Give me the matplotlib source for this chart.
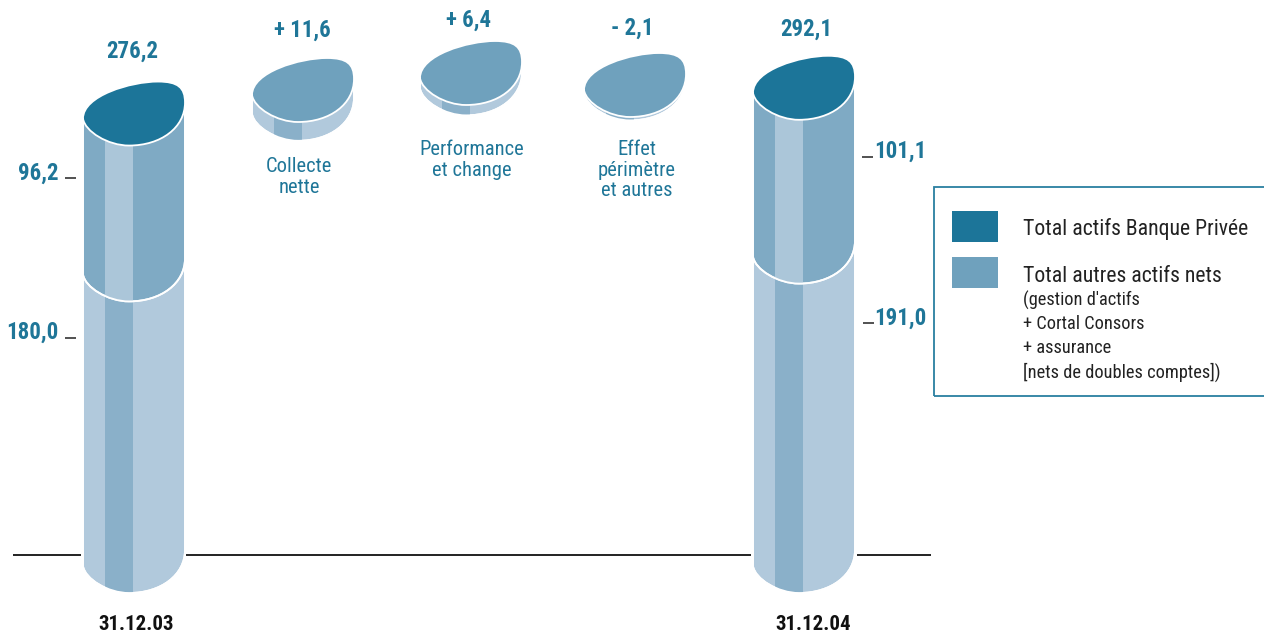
import matplotlib
matplotlib.use('Agg')
import matplotlib.pyplot as plt
from matplotlib.patches import PathPatch, Rectangle
from matplotlib.path import Path

# values in Md EUR
dates = ['31.12.03', '31.12.04']
banque_privee = [96.2, 101.1]
autres_actifs = [180.0, 191.0]
totaux = ['276,2', '292,1']
variations = [11.6, 6.4, -2.1]
variation_labels = ['+ 11,6', '+ 6,4', '- 2,1']
variation_names = ['Collecte\nnette', 'Performance\net change', 'Effet\npérimètre\net autres']

DARK = '#1c7599'
MID = '#6fa1bd'
UP_SIDE = '#7faac4'
UP_STRIPE = '#abc6d9'
LOW_SIDE = '#b1c9dc'
LOW_STRIPE = '#8ab0c9'
TXT = '#1f7698'

SCALE = 1.62   # px per unit
BASE = 593     # pixel row of value 0
W = 102

NARROW = ['Roboto Condensed', 'Liberation Sans']


def py(row):
    return (BASE - row) / SCALE


# lower edge and upper edge of the top ellipse, px from its lowest point
LOWER = [(0, 27), (2, 14), (25, 0), (46, 0), (78, 0), (102, 18), (102, 43)]
UPPER = [(102, 58), (95, 64), (75, 64), (48, 64), (0, 50), (0, 27)]


def cap_path(x0, val):
    pts = LOWER + UPPER
    verts = [(x0 + a, val + b / SCALE) for a, b in pts]
    codes = [Path.MOVETO] + [Path.CURVE4] * (len(pts) - 1)
    return Path(verts, codes)


def body_path(x0, v_bot, v_top):
    verts = [(x0, v_top + 27 / SCALE)]
    codes = [Path.MOVETO]
    for a, b in LOWER:
        verts.append((x0 + a, v_bot + b / SCALE))
        codes.append(Path.LINETO if (a, b) == LOWER[0] else Path.CURVE4)
    verts.append((x0 + W, v_top + 43 / SCALE))
    codes.append(Path.LINETO)
    verts.append(verts[0])
    codes.append(Path.CLOSEPOLY)
    return Path(verts, codes)


def draw_body(ax, x0, v_bot, v_top, side, stripe, z):
    patch = PathPatch(body_path(x0, v_bot, v_top), fc=side, ec='white', lw=1.3, zorder=z)
    ax.add_patch(patch)
    band = Rectangle((x0 + 22, v_bot - 5), 28, v_top - v_bot + 60, fc=stripe, ec='none', zorder=z + 0.1)
    ax.add_patch(band)
    band.set_clip_path(patch)
    # white edge goes back on top of the stripe
    ax.add_patch(PathPatch(body_path(x0, v_bot, v_top), fc='none', ec='white', lw=1.3, zorder=z + 0.2))


fig = plt.figure(figsize=(12.64, 6.32), dpi=100)
ax = fig.add_axes([0, 0, 1, 1])
ax.set_xlim(0, 1264)
ax.set_ylim(py(632), py(0))
ax.axis('off')

# ground line, broken around both cylinders
ground = py(555)
for a, b in [(13, 81), (186, 751), (857, 931)]:
    ax.plot([a, b], [ground, ground], color='#111111', lw=1.3, solid_capstyle='butt')

# full cylinders
lefts = [83, 753]
for i, x0 in enumerate(lefts):
    low = autres_actifs[i]
    top = low + banque_privee[i]
    draw_body(ax, x0, 0, low, LOW_SIDE, LOW_STRIPE, 2)
    draw_body(ax, x0, low, top, UP_SIDE, UP_STRIPE, 3)
    ax.add_patch(PathPatch(cap_path(x0, top), fc=DARK, ec='white', lw=1.3, zorder=4))

# the three floating discs
disc_left = [252, 420, 584]
disc_row = [122, 105, 117]
for i, v in enumerate(variations):
    top = py(disc_row[i])
    draw_body(ax, disc_left[i], top - abs(v), top, LOW_SIDE, LOW_STRIPE, 2)
    ax.add_patch(PathPatch(cap_path(disc_left[i], top), fc=MID, ec='white', lw=1.3, zorder=4))


def label(x, row, s, **kw):
    kw.setdefault('ha', 'center')
    kw.setdefault('va', 'center')
    ax.text(x, py(row), s, **kw)


val_style = dict(family=NARROW, weight='bold', fontsize=16.5, color=TXT)

for x, row, s in zip([132, 806], [51, 29], totaux):
    label(x, row, s, **val_style)

label(38, 173, '96,2', **val_style)
label(32, 332, '180,0', **val_style)
label(900, 151, '101,1', **val_style)
label(900, 318, '191,0', **val_style)

for a, b, row in [(65, 76, 178), (65, 76, 338), (862, 873, 157), (863, 874, 323)]:
    ax.plot([a, b], [py(row), py(row)], color='#333333', lw=1.2, solid_capstyle='butt')

for x, s in zip([136, 813], dates):
    label(x, 624, s, family=NARROW, weight='bold', fontsize=15, color='#111111')

for x, row, s in zip([302, 468, 632], [30, 20, 28], variation_labels):
    label(x, row, s, **val_style)

# disc captions
for x, row, s in zip([299, 472, 637], [177, 160, 170], variation_names):
    label(x, row, s, family=NARROW, fontsize=14.8, color=TXT, linespacing=1.12)

# legend box, open on the right side of the page
ax.add_patch(Rectangle((933.5, py(396)), 340, py(187) - py(396), fc='none', ec='#2a7fa0', lw=1.3))
ax.add_patch(Rectangle((952, py(242)), 46, py(211) - py(242), fc=DARK, ec='none'))
ax.add_patch(Rectangle((952, py(288)), 46, py(257) - py(288), fc=MID, ec='none'))

label(1023, 229, 'Total actifs Banque Privée', ha='left', family=NARROW, fontsize=15.7, color='#222222')
label(1023, 276, 'Total autres actifs nets', ha='left', family=NARROW, fontsize=15.7, color='#222222')
for row, s in zip([300, 324, 348, 372],
                  ["(gestion d'actifs", '+ Cortal Consors', '+ assurance', '[nets de doubles comptes])']):
    label(1023, row, s, ha='left', family=NARROW, fontsize=13.2, color='#222222')

fig.savefig('out.png', dpi=100)
